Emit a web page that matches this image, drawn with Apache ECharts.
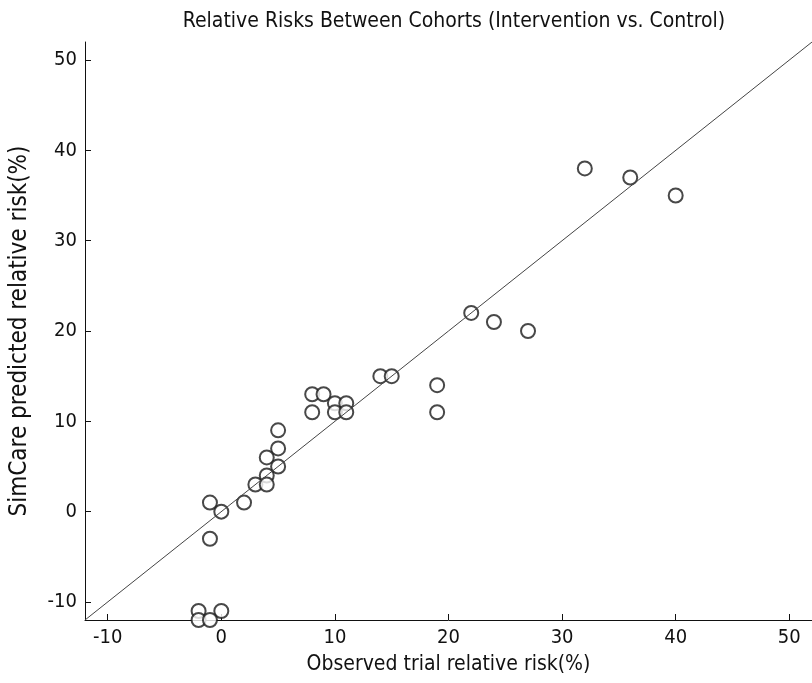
<!DOCTYPE html>
<html>
<head>
<meta charset="utf-8">
<script src="https://cdn.jsdelivr.net/npm/echarts@6/dist/echarts.min.js"></script>
<style>
  html, body { margin: 0; padding: 0; background: #fff; }
  #container { width: 812px; height: 683px; }
</style>
</head>
<body>
<div id="container"></div>
<script>
// observed trial relative risk (%) vs SimCare predicted (%)
var observed = [32, 36, 40, 22, 24, 27, 14, 15, 19, 19, 8, 9, 8, 10, 11, 10, 11,
                5, 5, 4, 5, 4, 3, 4, 2, -1, 0, -1, -2, 0, -2, -1];
var predicted = [38, 37, 35, 22, 21, 20, 15, 15, 14, 11, 13, 13, 11, 12, 12, 11, 11,
                 9, 7, 6, 5, 4, 3, 3, 1, 1, 0, -3, -11, -11, -12, -12];
var identityLine = [[-12, -12], [52, 52]];
var tickValues = [-10, 0, 10, 20, 30, 40, 50];

var points = [];
for (var i = 0; i < observed.length; i++) {
    points.push([observed[i], predicted[i]]);
}

var font = '"Liberation Sans Narrow", "DejaVu Sans Condensed", "Liberation Sans", Arial, sans-serif';

var dom = document.getElementById('container');
var myChart = echarts.init(dom);

function makeAxis(name, gap, nameSize) {
    return {
        type: 'value',
        min: -12,
        max: 52,
        name: name,
        nameLocation: 'middle',
        nameGap: gap,
        nameTextStyle: { color: '#111', fontSize: nameSize, fontFamily: font },
        splitLine: { show: false },
        axisLine: { onZero: false, lineStyle: { color: '#111', width: 1 } },
        axisTick: { inside: true, length: 6, customValues: tickValues, lineStyle: { color: '#111' } },
        axisLabel: { customValues: tickValues, color: '#111', fontSize: 20, fontFamily: font, margin: 8 }
    };
}

var option = {
    backgroundColor: '#FFFFFF',
    animation: false,
    title: {
        text: 'Relative Risks Between Cohorts (Intervention vs. Control)',
        left: 449,
        textAlign: 'center',
        top: 6,
        textStyle: { color: '#111', fontSize: 21, fontWeight: 'normal', fontFamily: font }
    },
    grid: { left: 84, right: -5, top: 42, bottom: 63 },
    xAxis: makeAxis('Observed trial relative risk(%)', 34, 21),
    yAxis: makeAxis('SimCare predicted relative risk(%)', 53, 24),
    series: [
        {
            type: 'line',
            data: identityLine,
            symbol: 'none',
            lineStyle: { color: '#444', width: 1 },
            silent: true
        },
        {
            type: 'scatter',
            data: points,
            symbol: 'emptyCircle',
            symbolSize: 14,
            itemStyle: { color: '#1a1a1a', borderWidth: 1.2 }
        }
    ]
};

myChart.setOption(option);
window.onresize = function () { myChart.resize(); };
</script>
</body>
</html>
